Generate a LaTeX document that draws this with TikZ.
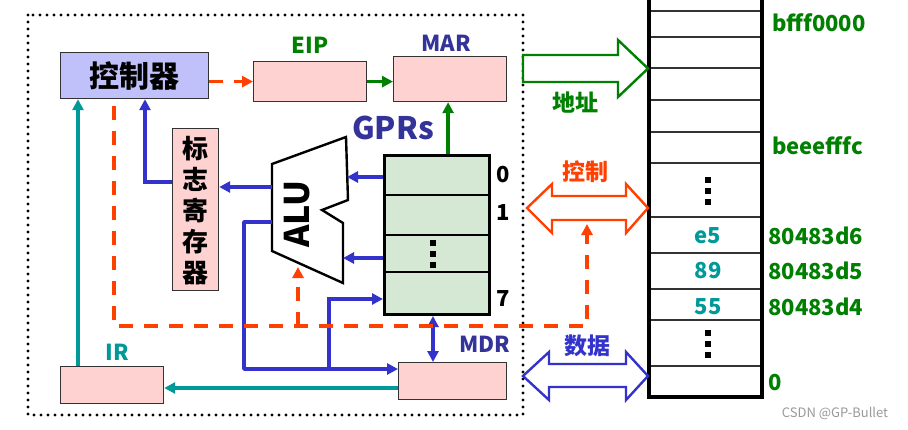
\documentclass[tikz,border=0pt]{standalone}
\usepackage{fontspec}
\setmainfont{Noto Sans CJK SC}
\usetikzlibrary{arrows.meta,calc}
\definecolor{lav}{RGB}{192,192,250}
\definecolor{pinkf}{RGB}{255,210,210}
\definecolor{grf}{RGB}{213,232,212}
\definecolor{gtxt}{RGB}{0,128,0}
\definecolor{bl}{RGB}{51,51,204}
\definecolor{bltxt}{RGB}{51,51,153}
\definecolor{rd}{RGB}{255,64,0}
\definecolor{tl}{RGB}{0,153,153}
\begin{document}
\begin{tikzpicture}[x=1pt,y=-1pt,
  box/.style={draw=black!80, line width=1.2pt, anchor=north west, inner sep=0pt, fill=pinkf},
  lbl/.style={font=\fontsize{22}{24}\selectfont\bfseries, inner sep=0pt},
  tip/.style={-{Triangle[length=11pt,width=11pt]}},
  bline/.style={draw=bl, line width=3.6pt, tip},
  gline/.style={draw=gtxt, line width=3.6pt, tip},
  tline/.style={draw=tl, line width=3.6pt, tip},
  rline/.style={draw=rd, line width=3.6pt, dash pattern=on 14pt off 11pt, tip},
  dotsq/.style={fill=black, minimum size=5.5pt, inner sep=0pt},
  bigarrow/.style={line width=2.4pt, fill=white, line join=miter}
]
\useasboundingbox (0,0) rectangle (908,429);
\fill[white] (0,0) rectangle (908,429);

% dotted frame
\draw[line width=3.4pt, line cap=round, dash pattern=on 0pt off 7pt] (28,15) rectangle (523,415);

% boxes
\node[box, fill=lav, minimum width=148pt, minimum height=46pt] (ctrl) at (60,52) {};
\node[font=\fontsize{30}{32}\selectfont\bfseries] at (ctrl.center) {控制器};
\node[box, minimum width=113pt, minimum height=40pt] (eip) at (253,61) {};
\node[box, minimum width=113pt, minimum height=45pt] (mar) at (393,56) {};
\node[box, minimum width=46pt, minimum height=162pt] (flag) at (172,128) {};
\node[font=\fontsize{26}{31}\selectfont\bfseries, align=center, inner sep=0pt] at ($(flag.center)+(0,1)$) {标\\志\\寄\\存\\器};
\node[box, minimum width=103pt, minimum height=37pt] (ir) at (60,366) {};
\node[box, minimum width=108pt, minimum height=37pt] (mdr) at (398,362) {};
\node[box, fill=grf, draw=black, line width=3pt, minimum width=105pt, minimum height=159pt] (gpr) at (383,154) {};
\draw[line width=1.2pt] (gpr.west |- 0,195) -- (gpr.east |- 0,195)
  (gpr.west |- 0,235) -- (gpr.east |- 0,235)
  (gpr.west |- 0,272) -- (gpr.east |- 0,272);
\node[dotsq] at (433,243) {};
\node[dotsq] at (433,254) {};
\node[dotsq] at (433,265) {};

% labels
\node[lbl, text=gtxt] at (310,45) {EIP};
\node[lbl, text=bltxt] at (446,43) {MAR};
\node[lbl, text=bltxt, font=\fontsize{31}{33}\selectfont\bfseries] at (393,128) {GPRs};
\node[lbl, text=tl] at (117,352) {IR};
\node[lbl, text=bltxt] at (485,344) {MDR};
\node[lbl] at (503,175) {0};
\node[lbl] at (503,213) {1};
\node[lbl] at (503,299) {7};

% ALU
\coordinate (a1) at (272,164);
\coordinate (a2) at (346,137);
\coordinate (a3) at (348,200);
\coordinate (a4) at (322,210);
\coordinate (a5) at (343,223);
\coordinate (a6) at (343,283);
\coordinate (a7) at (272,251);
\draw[line width=2.4pt, fill=white, line join=miter] (a1) -- (a2) -- (a3) -- (a4) -- (a5) -- (a6) -- (a7) -- cycle;
\node[rotate=90, font=\fontsize{34}{36}\selectfont\bfseries, inner sep=0pt] (alu) at (297,214) {ALU};
\coordinate (aluin1) at (347,177);
\coordinate (aluin2) at (343,258);
\coordinate (aluout1) at (272,187);
\coordinate (aluout2) at (272,222);
\coordinate (aluctl) at (298,267);

% connectors
\draw[rline] (ctrl.east |- eip.west) -- (eip.west);
\draw[gline] (eip.east) -- (mar.west |- eip.east);
\draw[gline] (gpr.north -| mar.south) ++(-2,0) -- ($(mar.south)+(-2,0)$);
\draw[bline] (gpr.west |- aluin1) -- (aluin1);
\draw[bline] (gpr.west |- aluin2) -- (aluin2);
\draw[bline] (aluout1) -- (flag.east |- aluout1);
\draw[bline] (flag.west |- 0,182) -- (145,182) -- (ctrl.south -| 145,0);
\draw[tline] (ir.north -| 78,0) -- (ctrl.south -| 78,0);
\draw[tline] (mdr.west |- 0,388) -- (ir.east |- 0,388);
\draw[draw=bl, line width=3.6pt, line join=round] (aluout2) -- (244,222) -- (244,369) -- (329,369);
\draw[bline] (244,369) -- (mdr.west |- 0,369);
\draw[bline] (329,369) -- (329,299) -- (gpr.west |- 0,299);
\draw[draw=bl, line width=3.6pt, {Triangle[length=11pt,width=11pt]}-{Triangle[length=11pt,width=11pt]}] (gpr.south -| 433,0) -- (mdr.north -| 433,0);

% control dashed
\coordinate (ctlin) at (587,224);
\draw[rline] (ctrl.south -| 114,0) ++(0,7) -- (114,326) -- (587,326) -- (ctlin);
\draw[rline] (298,326) -- (aluctl);

% memory column
\draw[line width=1.2pt, black!80] (649,11) -- (762,11) (649,37) -- (762,37) (649,68) -- (762,68)
  (649,100) -- (762,100) (649,132) -- (762,132) (649,163) -- (762,163)
  (649,217) -- (762,217) (649,253) -- (762,253) (649,289) -- (762,289)
  (649,320) -- (762,320) (649,366) -- (762,366);
\draw[line width=3.4pt, line join=miter] (649,-2) -- (649,397) -- (762,397) -- (762,-2);
\node[dotsq] at (708,180) {};
\node[dotsq] at (708,191) {};
\node[dotsq] at (708,202) {};
\node[dotsq] at (708,333) {};
\node[dotsq] at (708,344) {};
\node[dotsq] at (708,355) {};
\node[lbl, text=tl] (v1) at (708,236) {e5};
\node[lbl, text=tl] (v2) at (708,271) {89};
\node[lbl, text=tl] (v3) at (708,307) {55};
\node[lbl, text=gtxt, anchor=west] at (772,23) {bfff0000};
\node[lbl, text=gtxt, anchor=west] at (772,146) {beeefffc};
\node[lbl, text=gtxt, anchor=west] at (768,236) {80483d6};
\node[lbl, text=gtxt, anchor=west] at (768,271) {80483d5};
\node[lbl, text=gtxt, anchor=west] at (768,307) {80483d4};
\node[lbl, text=gtxt, anchor=west] at (768,383) {0};

% big arrows
\draw[bigarrow, draw=gtxt] (523,55) -- (618,55) -- (618,40) -- (648,68.5) -- (618,97) -- (618,82) -- (523,82) -- cycle;
\node[lbl, text=gtxt, font=\fontsize{23}{25}\selectfont\bfseries] at (575,103) {地址};
\draw[bigarrow, draw=rd] (527,208) -- (552,184) -- (552,196) -- (626,196) -- (626,184) -- (648,208) -- (626,233) -- (626,220) -- (552,220) -- (552,233) -- cycle;
\node[lbl, text=rd, font=\fontsize{23}{25}\selectfont\bfseries] at (585,172) {控制};
\draw[bigarrow, draw=bl] (523,376) -- (549,352) -- (549,364) -- (626,364) -- (626,352) -- (648,376) -- (626,400) -- (626,387) -- (549,387) -- (549,400) -- cycle;
\node[lbl, text=bl, font=\fontsize{23}{25}\selectfont\bfseries] at (587,346) {数据};

\node[text=black!40, font=\fontsize{13}{14}\selectfont, inner sep=0pt] at (835,413) {CSDN @GP-Bullet};
\end{tikzpicture}
\end{document}
